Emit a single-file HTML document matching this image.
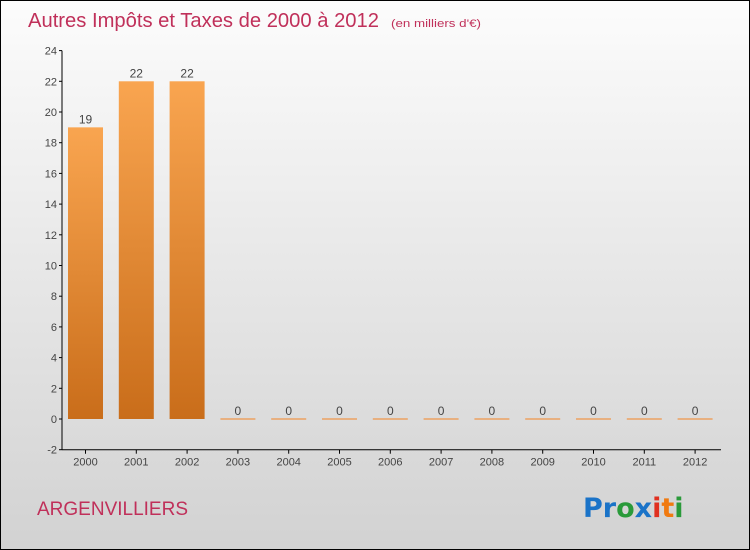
<!DOCTYPE html>
<html><head><meta charset="utf-8"><style>
body{margin:0}
#c{width:750px;height:550px;position:relative;box-sizing:border-box;border:1px solid #000;background:linear-gradient(#fcfcfc,#d2d2d2);font-family:"DejaVu Sans","Liberation Sans",sans-serif;overflow:hidden}
</style></head><body>
<div id="c">
<svg width="748" height="548">
<defs><linearGradient id="bg" x1="0" y1="0" x2="0" y2="1"><stop offset="0" stop-color="#f9a550"/><stop offset="1" stop-color="#c96d1a"/></linearGradient></defs>
<text x="27" y="26" font-size="20" font-family="Liberation Sans" fill="#c0305a" textLength="351" lengthAdjust="spacingAndGlyphs">Autres Impôts et Taxes de 2000 à 2012</text>
<text x="390" y="26" font-size="11" font-family="Liberation Sans" fill="#c0305a" textLength="90" lengthAdjust="spacingAndGlyphs">(en milliers d'€)</text>
<g id="plot"></g>
<text x="36" y="514" font-size="19" font-family="Liberation Sans" fill="#c0305a">ARGENVILLIERS</text>
<text x="582" y="516" font-size="27" font-weight="bold" font-family="DejaVu Sans"><tspan fill="#1a73c8">Pr</tspan><tspan fill="#2a9a3a">o</tspan><tspan fill="#1a73c8">x</tspan><tspan fill="#e03020">i</tspan><tspan fill="#f07a10">t</tspan><tspan fill="#2a9a3a">i</tspan></text>
</svg></div>
<script>
const categories=["2000","2001","2002","2003","2004","2005","2006","2007","2008","2009","2010","2011","2012"];
const values=[19,22,22,0,0,0,0,0,0,0,0,0,0];
const yTicks=[-2,0,2,4,6,8,10,12,14,16,18,20,22,24];
const ns="http://www.w3.org/2000/svg";
const g=document.getElementById('plot');
const y=v=>418-(v)*15.35;
const x=i=>84.5+50.8*i;
function mk(t,a){const e=document.createElementNS(ns,t);for(const k in a)e.setAttribute(k,a[k]);g.appendChild(e);return e;}
let ax=mk('line',{x1:61,y1:y(24),x2:61,y2:y(-2),stroke:'#000'});


let xx=mk('line',{x1:61,y1:y(-2),x2:720,y2:y(-2),stroke:'#000'});


yTicks.forEach(v=>{
 mk('line',{x1:58,y1:y(v),x2:61,y2:y(v),stroke:'#000'});
 const t=mk('text',{x:56,y:y(v)+4,'text-anchor':'end','font-size':11,'font-family':'Liberation Sans',fill:'#444'});t.textContent=v;
 
 
});
categories.forEach((c,i)=>{
 mk('line',{x1:x(i),y1:y(-2),x2:x(i),y2:y(-2)+4,stroke:'#000'});
 const t=mk('text',{x:x(i),y:y(-2)+16,'text-anchor':'middle','font-size':11,'font-family':'Liberation Sans',fill:'#444'});t.textContent=c;
 
 
 const v=values[i];
 let b;
 if(v>0){b=mk('rect',{x:x(i)-17.5,y:y(v),width:35,height:y(0)-y(v),fill:'url(#bg)'});}
 else{b=mk('rect',{x:x(i)-17.5,y:y(0)-1,width:35,height:2,fill:'#e8b080'});}
 
 
 const l=mk('text',{x:x(i),y:y(v)-4,'text-anchor':'middle','font-size':12,'font-family':'Liberation Sans',fill:'#444'});l.textContent=v;
 
 
});
</script>
</body></html>
